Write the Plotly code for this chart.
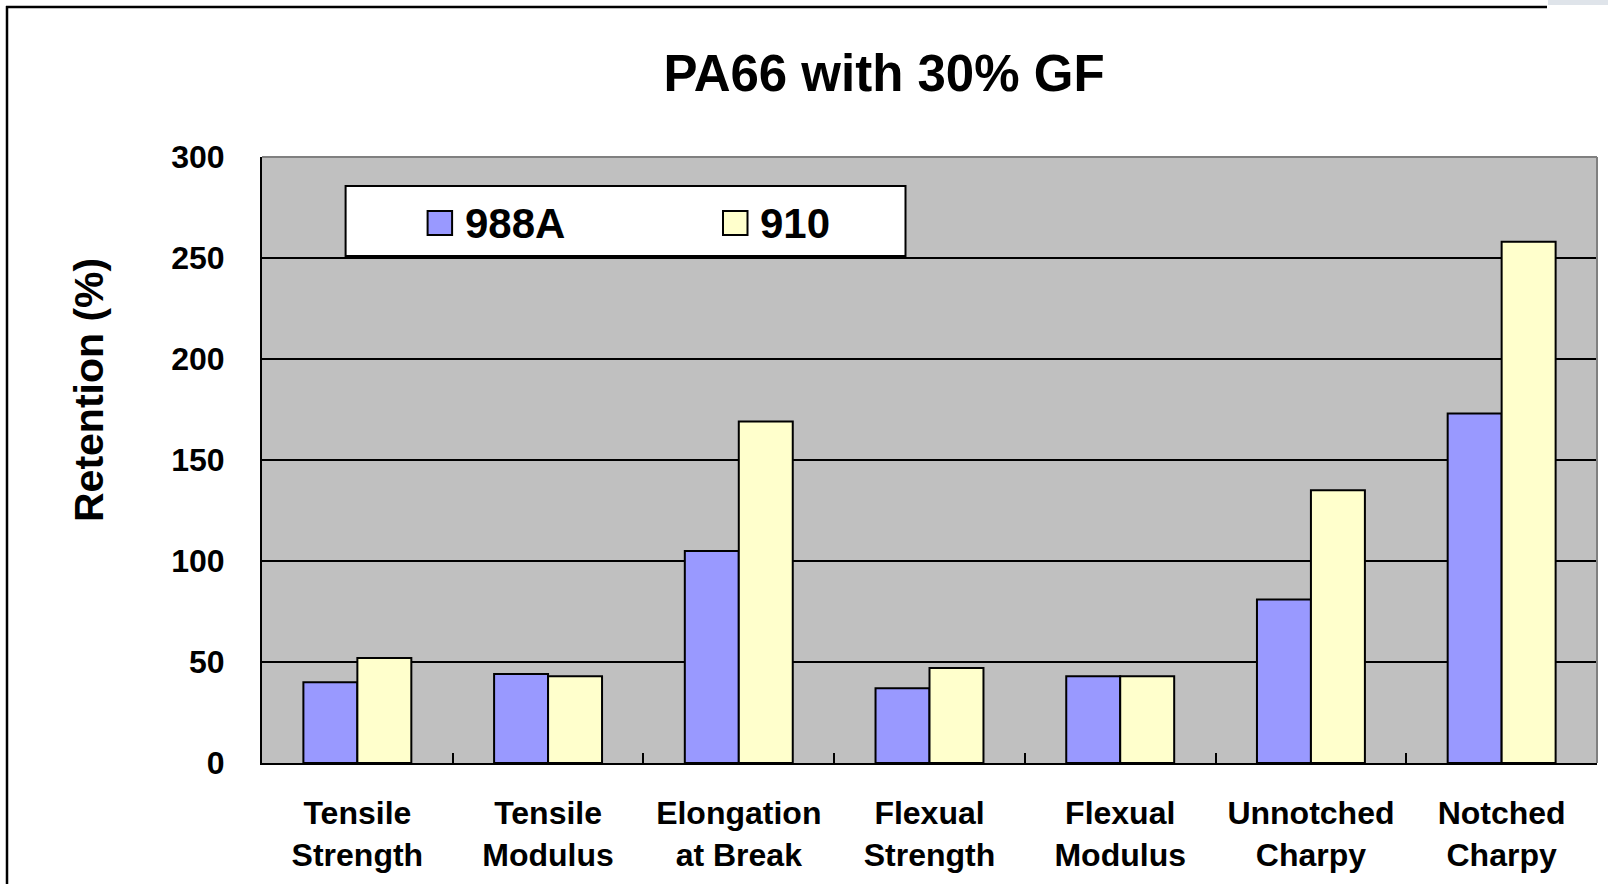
import plotly.graph_objects as go

# ---- data ----
categories = [
    "Tensile<br>Strength",
    "Tensile<br>Modulus",
    "Elongation<br>at Break",
    "Flexual<br>Strength",
    "Flexual<br>Modulus",
    "Unnotched<br>Charpy",
    "Notched<br>Charpy",
]
series_names = ["988A", "910"]
values_988a = [40, 44, 105, 37, 43, 81, 173]
values_910 = [52, 43, 169, 47, 43, 135, 258]
series_colors = ["#9999FF", "#FFFFCC"]

title_text = "PA66 with 30% GF"
y_title = "Retention (%)"
y_ticks = [0, 50, 100, 150, 200, 250, 300]

FONT = "Liberation Sans, Arial, sans-serif"

# ---- figure geometry (pixels) ----
W, H = 1608, 884
L, R, T, B = 262, 11, 157, 121
PW = W - L - R
PH = H - T - B


def px_x(px):
    return (px - L) / PW


def px_y(py):
    return (H - B - py) / PH


fig = go.Figure()
for name, vals, col in zip(series_names, [values_988a, values_910], series_colors):
    fig.add_trace(go.Bar(
        name=name, x=categories, y=vals,
        marker=dict(color=col, line=dict(color="black", width=2)),
        showlegend=False,
    ))

shapes = []
# outer chart border (left and top lines)
shapes.append(dict(type="line", xref="paper", yref="paper",
                   x0=px_x(7), x1=px_x(7), y0=px_y(6), y1=px_y(H + 5),
                   line=dict(color="black", width=2.5)))
shapes.append(dict(type="line", xref="paper", yref="paper",
                   x0=px_x(6), x1=px_x(1547), y0=px_y(7), y1=px_y(7),
                   line=dict(color="black", width=2.5)))
shapes.append(dict(type="rect", xref="paper", yref="paper",
                   x0=px_x(1548), x1=px_x(W + 2), y0=px_y(-2), y1=px_y(5),
                   fillcolor="#DFE4EA", line=dict(width=0)))
# plot area grey border (top, right)
shapes.append(dict(type="line", xref="paper", yref="paper", layer="above",
                   x0=0, x1=1, y0=1, y1=1, line=dict(color="#808080", width=2)))
shapes.append(dict(type="line", xref="paper", yref="paper", layer="above",
                   x0=1, x1=1, y0=0, y1=1, line=dict(color="#808080", width=2)))
# legend box
shapes.append(dict(type="rect", xref="paper", yref="paper", layer="above",
                   x0=px_x(345.6), x1=px_x(905.5), y0=px_y(186), y1=px_y(256),
                   fillcolor="white", line=dict(color="black", width=2)))

annotations = []
swatch_x = [427.6, 723.0]
text_x = [464.6, 760.0]
for name, col, sx, tx in zip(series_names, series_colors, swatch_x, text_x):
    shapes.append(dict(type="rect", xref="paper", yref="paper", layer="above",
                       x0=px_x(sx), x1=px_x(sx + 24.5), y0=px_y(211), y1=px_y(235),
                       fillcolor=col, line=dict(color="black", width=2)))
    annotations.append(dict(text="<b>%s</b>" % name, xref="paper", yref="paper",
                            x=px_x(tx - 2), y=px_y(224), xanchor="left", yanchor="middle",
                            showarrow=False, font=dict(family=FONT, size=42, color="black")))

# y-axis title (placed as in the reference, above the axis centre)
annotations.append(dict(text="<b>%s</b>" % y_title, xref="paper", yref="paper",
                        x=px_x(89), y=px_y(390), xanchor="center", yanchor="middle",
                        textangle=-90, showarrow=False,
                        font=dict(family=FONT, size=41, color="black")))

fig.update_layout(
    width=W, height=H,
    margin=dict(l=L, r=R, t=T, b=B, pad=0),
    paper_bgcolor="white", plot_bgcolor="#C0C0C0",
    barmode="group", bargap=0.434, bargroupgap=0,
    title=dict(text="<b>%s</b>" % title_text, x=884 / W, xref="container", xanchor="center",
               y=1 - 73 / H, yref="container", yanchor="middle",
               font=dict(family=FONT, size=51, color="black")),
    font=dict(family=FONT, color="black"),
    shapes=shapes, annotations=annotations,
    showlegend=False,
)
fig.update_yaxes(
    range=[0, 300], tickvals=y_ticks, ticktext=["<b>%d</b>" % v for v in y_ticks],
    showgrid=True, gridcolor="black", gridwidth=2, zeroline=False,
    ticks="inside", ticklen=10, tickwidth=2, tickcolor="black",
    showline=True, linecolor="black", linewidth=2,
    tickfont=dict(family=FONT, size=32, color="black"),
    ticklabelstandoff=29,
    automargin=False,
)
fig.update_xaxes(
    tickson="boundaries", ticks="inside", ticklen=10, tickwidth=2, tickcolor="black",
    showline=True, linecolor="black", linewidth=2, showgrid=False,
    tickvals=categories, ticktext=["<b>%s</b>" % c for c in categories],
    tickfont=dict(family=FONT, size=32, color="black"),
    ticklabelstandoff=21,
    automargin=False,
)

fig.write_html("out.html")
